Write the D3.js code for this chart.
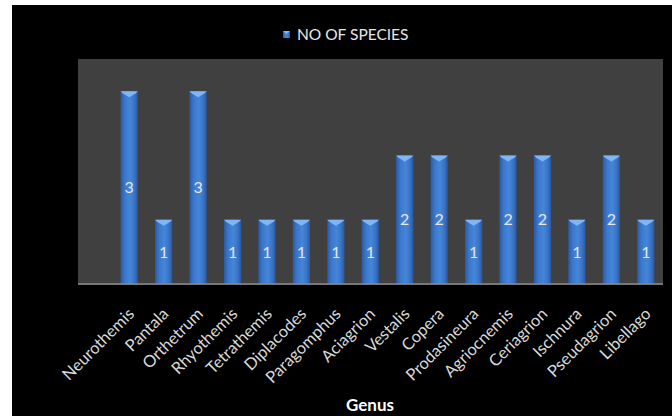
<!DOCTYPE html>
<html>
<head>
<meta charset="utf-8">
<script src="https://cdn.jsdelivr.net/npm/d3@7"></script>
<style>
  html, body { margin: 0; padding: 0; background: #ffffff; }
  svg { display: block; }
</style>
</head>
<body>
<script>
// Number of species recorded per genus
const genera = ["Neurothemis", "Pantala", "Orthetrum", "Rhyothemis", "Tetrathemis",
  "Diplacodes", "Paragomphus", "Aciagrion", "Vestalis", "Copera", "Prodasineura",
  "Agriocnemis", "Ceriagrion", "Ischnura", "Pseudagrion", "Libellago"];
const species = [3, 1, 3, 1, 1, 1, 1, 1, 2, 2, 1, 2, 2, 1, 2, 1];
const seriesName = "NO OF SPECIES";
const axisTitle = "Genus";

const W = 672, H = 416;
const font = "Lato, 'Open Sans', sans-serif";

const svg = d3.select("body").append("svg").attr("width", W).attr("height", H);

const defs = svg.append("defs");
const grad = defs.append("linearGradient").attr("id", "barFill")
  .attr("x1", "0%").attr("x2", "100%").attr("y1", "0%").attr("y2", "0%");
grad.append("stop").attr("offset", "0%").attr("stop-color", "#2a5aa3");
grad.append("stop").attr("offset", "25%").attr("stop-color", "#3c78cc");
grad.append("stop").attr("offset", "55%").attr("stop-color", "#4486da");
grad.append("stop").attr("offset", "80%").attr("stop-color", "#3a74c6");
grad.append("stop").attr("offset", "100%").attr("stop-color", "#2a579c");

// outer black panel
svg.append("rect").attr("x", 12).attr("y", 5).attr("width", W - 12).attr("height", H - 5)
  .attr("fill", "#000000");

// plot area
const plot = { left: 78, right: 663, top: 59, bottom: 285 };
svg.append("rect").attr("x", plot.left).attr("y", plot.top)
  .attr("width", plot.right - plot.left).attr("height", plot.bottom - plot.top)
  .attr("fill", "#404040");

const baseY = 284;
const x = d3.scaleBand().domain(genera).range([112, 663]).paddingInner(0.5).paddingOuter(0.25);
const y = d3.scaleLinear().domain([0, 3.5]).range([baseY, plot.top]);

// category axis
const xAxis = d3.axisBottom(x).tickSize(0).tickPadding(0);
const gx = svg.append("g").attr("transform", `translate(0,${baseY})`).call(xAxis);
gx.select(".domain").remove();
gx.selectAll(".tick text")
  .attr("fill", "#d9d9d9")
  .style("font-family", font)
  .style("font-size", "16.5px")
  .attr("text-anchor", "end")
  .attr("dy", null)
  .attr("y", null)
  .attr("transform", "translate(6,31) rotate(-45)");

// bars
const bars = svg.append("g").selectAll("g").data(genera).join("g");
bars.append("rect")
  .attr("x", d => x(d))
  .attr("y", (d, i) => y(species[i]))
  .attr("width", x.bandwidth())
  .attr("height", (d, i) => baseY - y(species[i]))
  .attr("fill", "url(#barFill)");
// top bevel highlight
bars.append("path")
  .attr("d", (d, i) => {
    const x0 = x(d), w = x.bandwidth(), t = y(species[i]);
    return `M${x0},${t}L${x0 + w},${t}L${x0 + w - 2},${t + 2}L${x0 + w / 2},${t + 6}L${x0 + 2},${t + 2}Z`;
  })
  .attr("fill", "#80b6f4");
bars.append("text")
  .attr("x", d => x(d) + x.bandwidth() / 2)
  .attr("y", (d, i) => (y(species[i]) + baseY) / 2)
  .attr("dy", "0.36em")
  .attr("text-anchor", "middle")
  .attr("fill", "#e6e6e6")
  .style("font-family", font)
  .style("font-size", "16px")
  .text((d, i) => species[i]);

// baseline
svg.append("line").attr("x1", plot.left).attr("x2", plot.right)
  .attr("y1", baseY).attr("y2", baseY)
  .attr("stroke", "#8a8a8a").attr("stroke-width", 1.5);

// legend
const lg = svg.append("g").attr("transform", "translate(283,31)");
lg.append("rect").attr("width", 7).attr("height", 7).attr("fill", "url(#barFill)");
lg.append("path").attr("d", "M0,0L7,0L3.5,3Z").attr("fill", "#80b6f4");
lg.append("text").attr("x", 14).attr("y", 3.5).attr("dy", "0.36em")
  .attr("fill", "#e6e6e6").style("font-family", font).style("font-size", "15.5px")
  .text(seriesName);

// axis title
svg.append("text").attr("x", 370).attr("y", 405).attr("dy", "0.36em")
  .attr("text-anchor", "middle").attr("fill", "#ffffff")
  .style("font-family", font).style("font-size", "17px").style("font-weight", "bold")
  .text(axisTitle);
</script>
</body>
</html>
